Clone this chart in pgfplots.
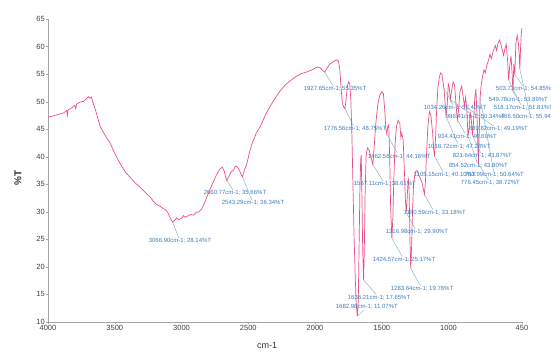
\documentclass[border=0pt]{standalone}
\usepackage{fontspec}
\setmainfont{Liberation Sans}
\usepackage{pgfplots}
\pgfplotsset{compat=1.18}
\definecolor{spec}{RGB}{234,78,136}
\definecolor{lab}{RGB}{60,125,190}
\definecolor{pinc}{RGB}{130,180,195}
\begin{document}
\begin{tikzpicture}
\begin{axis}[
  at={(0pt,0pt)}, anchor=south west,
  scale only axis, width=474pt, height=303pt,
  x dir=reverse, xmin=450, xmax=4000, ymin=10, ymax=65,
  axis x line*=bottom, axis y line*=left,
  axis line style={gray!70, line width=0.5pt},
  xtick={450,1000,1500,2000,2500,3000,3500,4000},
  ytick={10,15,...,65},
  tick align=outside, major tick length=2pt,
  tick style={gray!70},
  ticklabel style={font=\fontsize{7.5}{8}\selectfont, text=black!75, inner sep=1pt},
  /pgf/number format/assume math mode=true,
  /pgf/number format/1000 sep={},
  clip=false,
]
\addplot[spec, line width=0.7pt] coordinates {
(4000,47.2) (3960,47.4) (3920,47.7) (3880,48.0) (3860,48.4) (3855,47.5) (3850,48.5) (3820,48.9) (3800,49.3) (3792,48.7) (3785,49.6) (3760,49.9) (3730,50.1) (3710,50.6) (3695,50.9) (3685,50.6) (3675,50.8) (3660,49.6) (3645,48.5) (3630,47.3) (3610,45.5) (3570,43.8) (3535,42.5) (3500,40.6) (3461,38.8) (3420,37.2) (3386,36.3) (3350,35.3) (3311,34.5) (3270,33.5) (3236,32.7) (3200,31.6) (3184,31.3) (3160,31.0) (3139,30.6) (3120,30.4) (3101,29.8) (3085,28.9) (3066.90,28.14) (3050,28.5) (3035,28.9) (3020,28.6) (3000,28.8) (2985,29.3) (2970,29.0) (2950,29.3) (2930,29.5) (2910,29.4) (2890,29.9) (2870,30.0) (2850,30.5) (2830,31.5) (2800,33.3) (2770,35.0) (2740,36.6) (2715,37.7) (2695,38.1) (2680,37.4) (2670,36.4) (2660.77,35.66) (2648,36.3) (2630,37.2) (2610,37.6) (2595,38.3) (2580,38.1) (2565,37.4) (2550,36.6) (2543.29,36.34) (2530,37.5) (2510,38.8) (2490,40.9) (2470,42.5) (2440,44.3) (2410,45.5) (2375,47.4) (2340,49.0) (2300,50.6) (2260,52.0) (2220,53.1) (2180,53.9) (2140,54.6) (2100,55.1) (2060,55.4) (2020,55.8) (1985,56.3) (1960,56.1) (1945,55.7) (1927.65,55.35) (1915,55.9) (1890,56.8) (1860,57.3) (1840,57.6) (1825,57.4) (1815,56.0) (1805,52.5) (1795,49.6) (1785,49.0) (1776.56,48.75) (1768,50.2) (1758,52.8) (1748,53.6) (1740,53.2) (1732,50.5) (1724,44) (1716,35) (1708,26) (1700,19) (1692,13.5) (1682.98,11.07) (1676,14) (1670,24) (1664,34) (1658,39.5) (1654,40.3) (1649,33) (1643,23) (1636.21,17.65) (1631,23) (1625,33) (1618,40) (1608,41.6) (1595,41.2) (1580,39.8) (1567.11,38.61) (1558,41.5) (1545,46) (1530,49.5) (1515,51.2) (1500,51.8) (1488,51.4) (1478,48.5) (1470,45.2) (1462.56,44.16) (1455,45.5) (1448,45.8) (1441,40) (1434,31) (1424.57,25.17) (1417,29) (1410,36) (1400,42.5) (1390,45.5) (1378,46.6) (1365,46.0) (1357,43.5) (1350,44.3) (1340,43) (1330,37) (1323,32) (1316.98,29.90) (1310,32.5) (1302,36.2) (1296,34.5) (1290,26) (1283.64,19.76) (1277,23.5) (1270,30) (1262,35) (1250,37.2) (1236,37.5) (1222,36.6) (1210,36.0) (1198,35.2) (1188,34.0) (1180.59,33.18) (1173,35.5) (1165,40.5) (1155,45.5) (1143,48.2) (1132,47.5) (1120,44.5) (1112,41.5) (1105.15,40.10) (1098,43) (1090,48) (1080,52.5) (1070,54.3) (1060,55.2) (1050,55.0) (1042,53.6) (1034.26,52.40) (1026,49.8) (1018.72,47.28) (1010,49.5) (1002,53.2) (995,52.6) (986.41,50.34) (978,51.8) (966,53.6) (955,53) (945,49.8) (934.41,46.69) (925,48.5) (915,51.8) (902,52.8) (890,50.8) (880.82,49.19) (872,50.8) (863,48.5) (854.52,43.80) (846,45.2) (838,48.2) (829,46.5) (821.64,43.87) (813,46.2) (804,50.6) (795,52.3) (787,47.5) (776.45,38.72) (770,44.5) (763.99,50.64) (755,53.2) (745,54.6) (735,55.8) (725,55.2) (715,56.4) (700,57.6) (690,58.6) (680,57.8) (665,59.2) (650,60.2) (640,59.3) (630,60.6) (618,61.2) (608,60.4) (598,59.4) (588,58.4) (578,59.6) (568,60.4) (558,57.5) (549.78,53.89) (542,56.5) (532,58.3) (524,55) (518.17,51.81) (511,56.8) (503.73,54.85) (496,60.6) (486,62.0) (476,60.4) (470,58) (466.50,55.94) (461,59.6) (455,62.4) (450,63.4)
};
\tikzset{pk/.style={text=lab, font=\fontsize{6}{7}\selectfont, anchor=west, inner sep=0.6pt}, pl/.style={draw=pinc, line width=0.45pt}}
\node[pk] (a1) at (axis cs:3251,24.7) {3066.90cm-1; 28.14\%T};
\draw[pl] (axis cs:3066.90,28.14) -- (a1);
\node[pk] (a2) at (axis cs:2839,33.4) {2660.77cm-1; 35.66\%T};
\draw[pl] (axis cs:2660.77,35.66) -- (a2);
\node[pk] (a3) at (axis cs:2704,31.6) {2543.29cm-1; 36.34\%T};
\draw[pl] (axis cs:2543.29,36.34) -- (a3);
\node[pk] (a4) at (axis cs:2090,52.3) {1927.65cm-1; 55.35\%T};
\draw[pl] (axis cs:1927.65,55.35) -- (a4);
\node[pk] (a5) at (axis cs:1940,45.0) {1776.56cm-1; 48.75\%T};
\draw[pl] (axis cs:1776.56,48.75) -- (a5);
\node[pk] (a6) at (axis cs:1610,40.0) {1462.56cm-1; 44.16\%T};
\draw[pl] (axis cs:1462.56,44.16) -- (a6);
\node[pk] (a7) at (axis cs:1715,35.05) {1567.11cm-1; 38.61\%T};
\draw[pl] (axis cs:1567.11,38.61) -- (a7);
\node[pk] (a8) at (axis cs:1266,36.7) {1105.15cm-1; 40.10\%T};
\draw[pl] (axis cs:1105.15,40.10) -- (a8);
\node[pk] (a9) at (axis cs:884,36.7) {763.99cm-1; 50.64\%T};
\draw[pl] (axis cs:763.99,50.64) -- (a9);
\node[pk] (a10) at (axis cs:914,35.2) {776.45cm-1; 38.72\%T};
\draw[pl] (axis cs:776.45,38.72) -- (a10);
\node[pk] (a11) at (axis cs:1004,38.3) {854.52cm-1; 43.80\%T};
\draw[pl] (axis cs:854.52,43.80) -- (a11);
\node[pk] (a12) at (axis cs:974,40.1) {821.64cm-1; 43.87\%T};
\draw[pl] (axis cs:821.64,43.87) -- (a12);
\node[pk] (a13) at (axis cs:1161,41.8) {1018.72cm-1; 47.28\%T};
\draw[pl] (axis cs:1018.72,47.28) -- (a13);
\node[pk] (a14) at (axis cs:1086,43.6) {934.41cm-1; 46.69\%T};
\draw[pl] (axis cs:934.41,46.69) -- (a14);
\node[pk] (a15) at (axis cs:854,45.0) {880.82cm-1; 49.19\%T};
\draw[pl] (axis cs:880.82,49.19) -- (a15);
\node[pk] (a16) at (axis cs:1026,47.2) {986.41cm-1; 50.34\%T};
\draw[pl] (axis cs:986.41,50.34) -- (a16);
\node[pk] (a17) at (axis cs:1191,48.8) {1034.26cm-1; 52.40\%T};
\draw[pl] (axis cs:1034.26,52.40) -- (a17);
\node[pk] (a18) at (axis cs:667,48.8) {518.17cm-1; 51.81\%T};
\draw[pl] (axis cs:518.17,51.81) -- (a18);
\node[pk] (a19) at (axis cs:614,47.2) {466.50cm-1; 55.94\%T};
\draw[pl] (axis cs:466.50,55.94) -- (a19);
\node[pk] (a20) at (axis cs:704,50.3) {549.78cm-1; 53.89\%T};
\draw[pl] (axis cs:549.78,53.89) -- (a20);
\node[pk] (a21) at (axis cs:651,52.3) {503.73cm-1; 54.85\%T};
\draw[pl] (axis cs:503.73,54.85) -- (a21);
\node[pk] (a22) at (axis cs:1476,26.3) {1316.98cm-1; 29.90\%T};
\draw[pl] (axis cs:1316.98,29.90) -- (a22);
\node[pk] (a23) at (axis cs:1341,29.8) {1180.59cm-1; 33.18\%T};
\draw[pl] (axis cs:1180.59,33.18) -- (a23);
\node[pk] (a24) at (axis cs:1573,21.3) {1424.57cm-1; 25.17\%T};
\draw[pl] (axis cs:1424.57,25.17) -- (a24);
\node[pk] (a25) at (axis cs:1438,16.0) {1283.64cm-1; 19.76\%T};
\draw[pl] (axis cs:1283.64,19.76) -- (a25);
\node[pk] (a26) at (axis cs:1760,14.4) {1636.21cm-1; 17.65\%T};
\draw[pl] (axis cs:1636.21,17.65) -- (a26);
\node[pk] (a27) at (axis cs:1850,12.7) {1682.98cm-1; 11.07\%T};
\draw[pl] (axis cs:1682.98,11.07) -- (a27);
\node[rotate=90, font=\fontsize{10}{12}\selectfont\bfseries, text=black!80] at (axis cs:4225,36.1) {\%T};
\node[font=\fontsize{9}{10}\selectfont, text=black!80] at (axis cs:2359,5.8) {cm-1};
\end{axis}
\pgfresetboundingbox
\path[use as bounding box] (-48pt,-30pt) rectangle (503pt,322pt);
\end{tikzpicture}
\end{document}
